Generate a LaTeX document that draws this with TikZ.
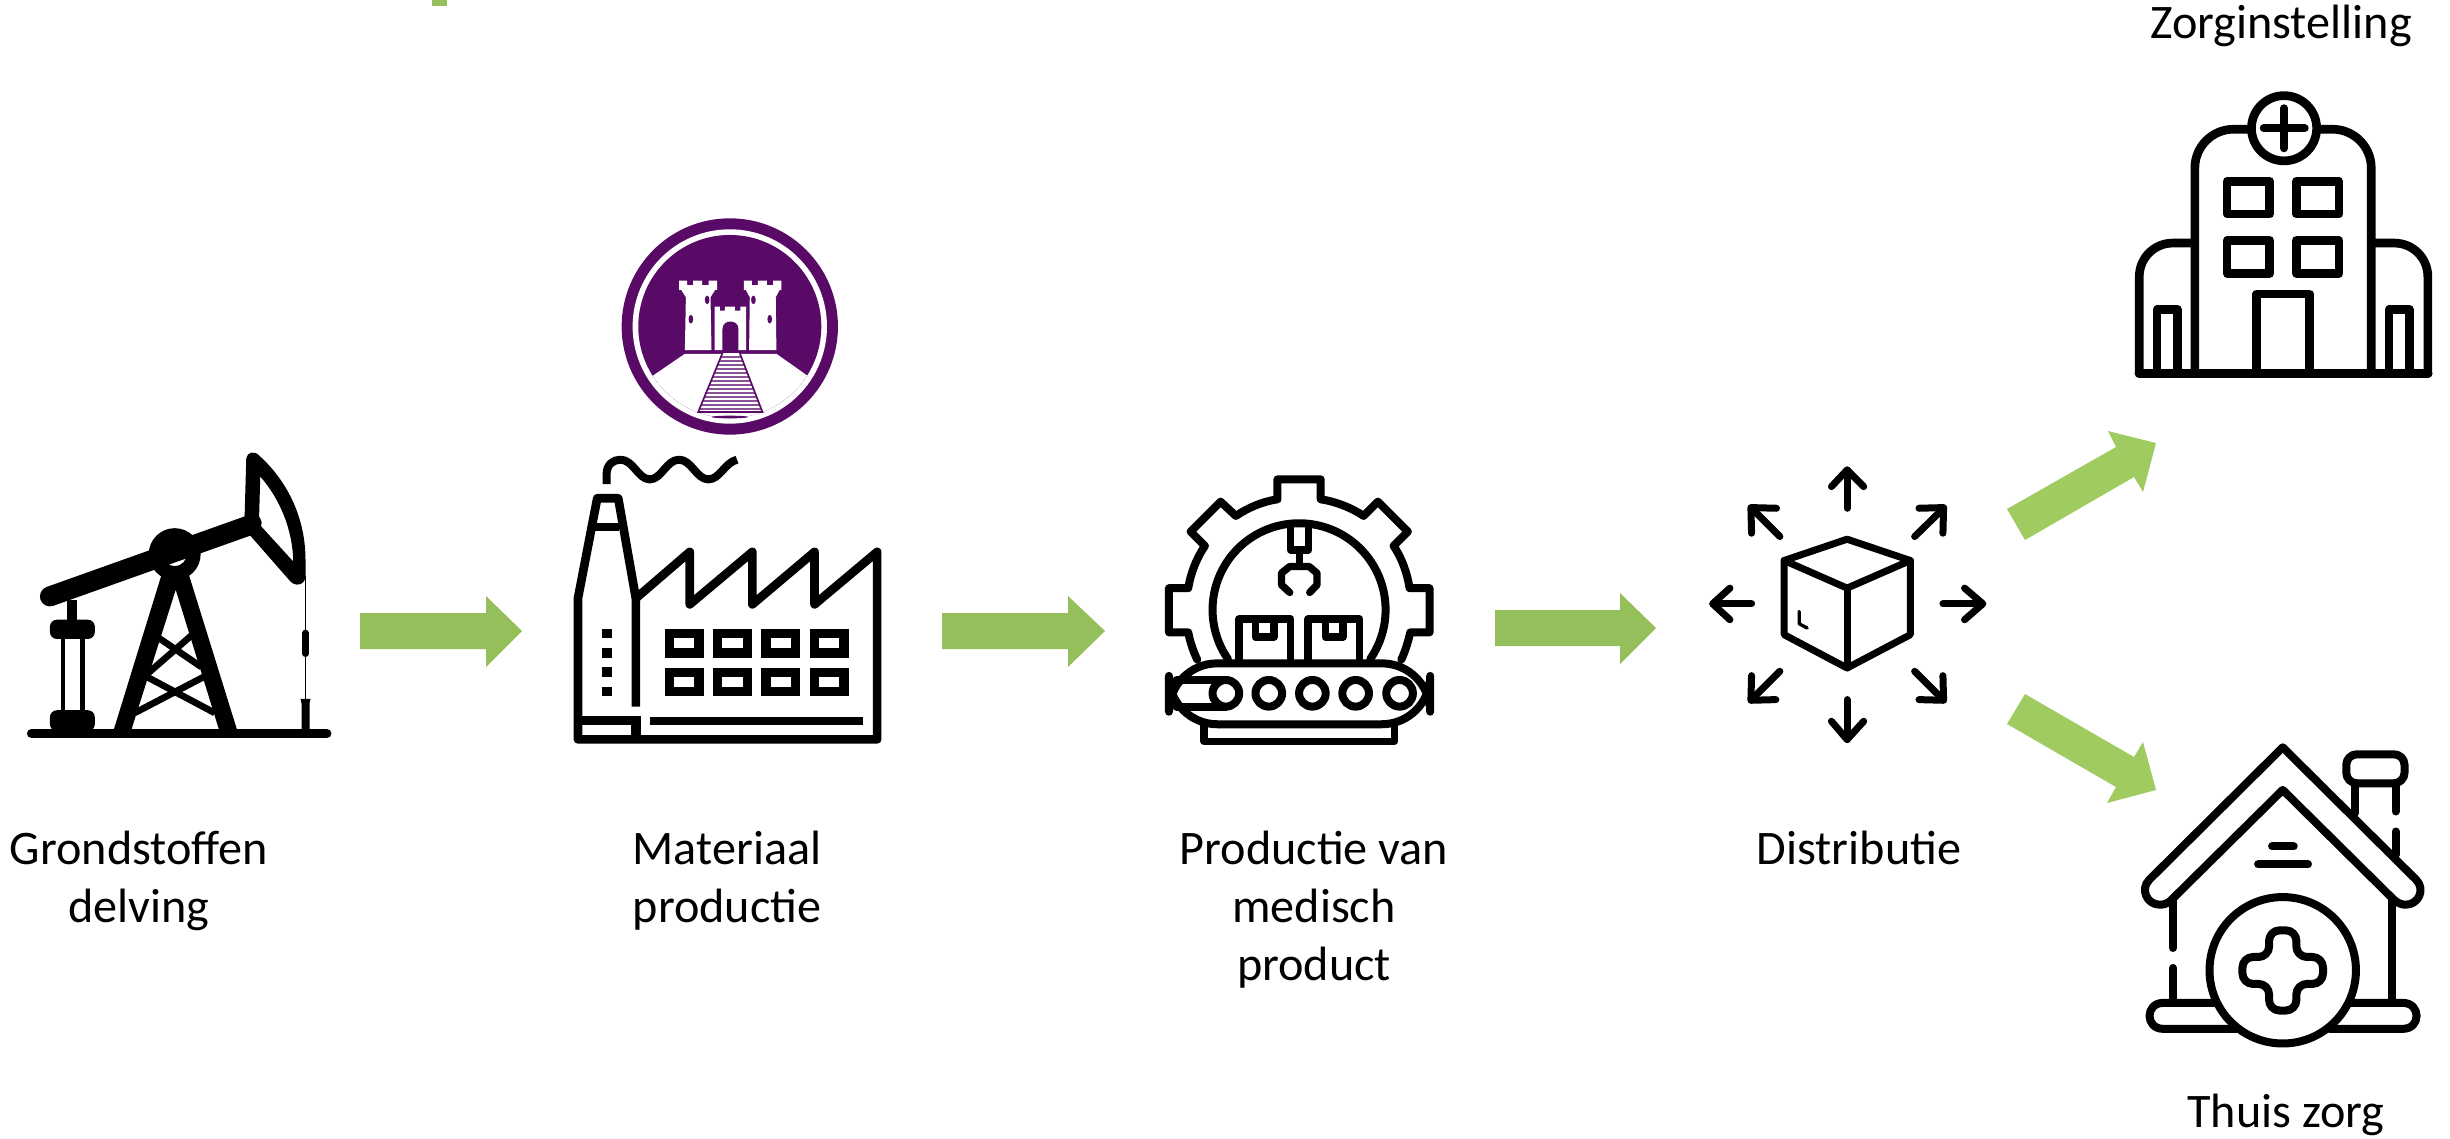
\documentclass[tikz,border=0pt]{standalone}
\usepackage{fontspec}
\setmainfont{Carlito}
\definecolor{grA}{HTML}{94BF5A}
\definecolor{grB}{HTML}{A0CB60}
\definecolor{purp}{HTML}{590A67}
\tikzset{
  ln/.style={line width=#1*0.0948pt},
  ink/.style={draw=black,line join=round,line cap=round,ln=#1},
  inkb/.style={draw=black,line join=miter,line cap=butt,ln=#1},
  zm/.style={x=0.0033333cm,y=-0.0033333cm},
  zmf/.style={x=0.0033333cm,y=-0.0035714cm},
  lab/.style={anchor=base,inner sep=0pt,font=\fontsize{13.7}{16}\selectfont,text=black},
}
\begin{document}
\begin{tikzpicture}[x=0.01cm,y=-0.01cm]
\useasboundingbox (0,0) rectangle (2450,1138);
\fill[white] (0,0) rectangle (2450,1138);
% top fragment
\fill[grA] (432,0) rectangle (447,6);
% block arrows
\fill[grA] (360,613) -- (486,613) -- (486,596) -- (522,631) -- (486,667) -- (486,649) -- (360,649) -- cycle;
\fill[grA] (942,613) -- (1068,613) -- (1068,596) -- (1105,631) -- (1068,667) -- (1068,649) -- (942,649) -- cycle;
\fill[grA] (1495,610) -- (1620,610) -- (1620,593) -- (1656,628) -- (1620,664) -- (1620,646) -- (1495,646) -- cycle;
\fill[grB] (2007,509) -- (2116,447) -- (2108,431) -- (2156,443) -- (2143,492) -- (2134,477) -- (2025,540) -- cycle;
\fill[grB] (2025,694) -- (2134,757) -- (2143,742) -- (2156,790) -- (2107,803) -- (2116,787) -- (2007,724) -- cycle;

% ---------- pump
\begin{scope}[shift={(0,420)},zm]
\draw[ink=28] (95,942) -- (982,942);
\draw[inkb=60,line cap=round] (150,530) -- (745,318);
\fill (735,285) -- (770,285) .. controls (790,295) and (792,320) .. (775,330) -- (750,345) -- cycle;
\fill[even odd rule] (740,115) .. controls (742,97) and (765,90) .. (780,108) .. controls (860,180) and (918,290) .. (918,420) -- (918,470) .. controls (916,498) and (885,502) .. (870,482) -- (750,345) -- (735,290) -- cycle
  (782,170) .. controls (840,235) and (880,330) .. (881,425) -- (778,312) -- cycle;
\draw[inkb=5] (918,470) -- (918,930);
\draw[ink=20] (918,640) -- (918,702);
\fill (903,838) -- (933,838) -- (930,852) -- (930,930) -- (906,930) -- (906,852) -- cycle;
\draw[inkb=30] (217,540) -- (217,605);
\fill[rounded corners=4pt*0.5] (150,600) rectangle (285,658);
\draw[inkb=14] (189,655) -- (189,875);
\draw[inkb=14] (247,655) -- (247,875);
\fill[rounded corners=2pt] (150,872) rectangle (285,935);
\fill (490,450) -- (342,930) -- (395,930) -- (528,510) -- (658,930) -- (712,930) -- (563,450) -- cycle;
\draw[inkb=20] (470,650) -- (605,742);
\draw[inkb=20] (578,645) -- (440,765);
\draw[inkb=20] (438,770) -- (645,880);
\draw[inkb=20] (612,772) -- (405,880);
\fill[even odd rule] (525,403) circle[radius=78] (525,403) circle[radius=36];
\end{scope}

% ---------- logo
\begin{scope}[shift={(610,210)},zm]
\fill[purp] (360,350) circle[radius=325];
\fill[white] (360,350) circle[radius=292];
\fill[purp] (360,350) circle[radius=275];
\begin{scope}
\clip (360,350) circle[radius=275];
\fill[white] (225,432) -- (500,432) -- (592,497) -- (700,497) -- (700,700) -- (20,700) -- (20,497) -- (130,497) -- cycle;
\end{scope}
% towers
\fill[white] (208,212) -- (232,212) -- (232,226) -- (250,226) -- (250,212) -- (277,212) -- (277,226) -- (296,226) -- (296,212) -- (322,212) -- (322,240) -- (316,240) -- (302,262) -- (305,421) -- (225,421) -- (228,262) -- (214,240) -- (208,240) -- cycle;
\fill[white] (402,212) -- (426,212) -- (426,226) -- (444,226) -- (444,212) -- (471,212) -- (471,226) -- (490,226) -- (490,212) -- (515,212) -- (515,240) -- (510,240) -- (498,262) -- (500,421) -- (418,421) -- (420,262) -- (408,240) -- (402,240) -- cycle;
\fill[white] (314,290) -- (330,290) -- (330,302) -- (345,302) -- (345,290) -- (375,290) -- (375,302) -- (392,302) -- (392,290) -- (409,290) -- (409,421) -- (314,421) -- cycle;
\fill[purp] (338,425) -- (338,358) .. controls (338,342) and (350,335) .. (362,335) .. controls (374,335) and (386,342) .. (386,358) -- (386,425) -- cycle;
\foreach \wx/\wy in {292/270,243/328,431/270,480/328}
  \fill[purp] (\wx,\wy) ellipse[x radius=7,y radius=13];
% stairs
\fill[white] (338,430) -- (390,430) -- (458,607) -- (265,607) -- cycle;
\begin{scope}
\clip (338,430) -- (390,430) -- (458,607) -- (265,607) -- cycle;
\foreach \sy in {442,454,466,478,490,502,514,526,538,550,562,574,586,598}
  \draw[purp!70!white,ln=4] (260,\sy) -- (460,\sy);
\end{scope}
\draw[purp,ln=5,line join=miter] (338,430) -- (265,607) -- (458,607) -- (390,430);
\fill[purp] (360,622) ellipse[x radius=55,y radius=4];
\end{scope}

% ---------- factory
\begin{scope}[shift={(550,200)},zmf]
\draw[ink=26,line cap=butt] (84,1510) -- (84,1115) -- (142,835) -- (205,835) -- (258,1115) -- (258,1418);
\draw[ink=26] (84,1510) -- (983,1510) -- (983,985) -- (795,1132) -- (795,985) -- (608,1132) -- (608,985) -- (420,1132) -- (420,985) -- (258,1115);
\draw[inkb=24] (135,915) -- (207,915);
\draw[inkb=26] (84,1457) -- (272,1457);
\draw[inkb=28] (258,1445) -- (258,1510);
\draw[inkb=26] (300,1458) -- (940,1458);
\foreach \dy in {1200,1255,1308,1362}
  \fill (155,\dy) rectangle (186,\dy+27);
\foreach \wx in {345,490,635,780}
  \foreach \wy in {1200,1308}
    \draw[inkb=28] (\wx+14,\wy+14) rectangle (\wx+103,\wy+68);
\draw[inkb=24,line join=round] (170,795) -- (170,768) .. controls (170,740) and (190,727) .. (212,727) .. controls (250,727) and (265,782) .. (300,782) .. controls (335,782) and (350,727) .. (388,727) .. controls (425,727) and (440,782) .. (476,782) .. controls (510,782) and (525,735) .. (562,727);
\end{scope}

% ---------- gear / conveyor
\begin{scope}[shift={(1140,460)},zm]
\draw[ink=24] (172,600) .. controls (160,575) and (150,545) .. (145,518) -- (87,518) -- (87,385) -- (145,385)
  .. controls (152,340) and (170,295) .. (195,258) -- (152,215) -- (242,125) -- (288,168)
  .. controls (325,143) and (368,125) .. (413,118) -- (413,58) -- (543,58) -- (543,118)
  .. controls (588,125) and (635,143) .. (672,168) -- (715,125) -- (805,215) -- (762,258)
  .. controls (787,295) and (803,340) .. (810,385) -- (870,385) -- (870,518) -- (812,518)
  .. controls (806,545) and (797,575) .. (785,600);
\draw[ink=24,domain=145.3:394.7,samples=60,smooth] plot ({478+260*cos(\x)},{450+260*sin(\x)});
% claw
\draw[ink=22] (452,200) -- (452,270) -- (506,270) -- (506,200);
\draw[inkb=22] (480,270) -- (480,320);
\draw[ink=22] (450,398) -- (425,375) -- (425,340) -- (450,320) -- (508,320) -- (532,340) -- (532,375) -- (510,398);
% boxes
\draw[ink=22] (297,600) -- (297,478) -- (453,478) -- (453,600);
\draw[ink=22] (347,490) -- (347,532) -- (403,532) -- (403,490);
\draw[ink=22] (505,600) -- (505,478) -- (660,478) -- (660,600);
\draw[ink=22] (557,490) -- (557,532) -- (610,532) -- (610,490);
% belt
\draw[ink=24,fill=white,rounded corners=27.5pt*0.5] (87,611) rectangle (872,794);
\draw[ink=24] (110,661) -- (258,661);
\draw[ink=24] (110,741) -- (258,741);
\foreach \rx in {258,387,518,648,780}
  \draw[ink=24,fill=white] (\rx,701) circle[radius=40];
\draw[ink=22] (192,800) -- (192,845) -- (765,845) -- (765,800);
\end{scope}

% ---------- distribution
\begin{scope}[shift={(1690,450)},zm]
\tikzset{dd/.style={ink=21}}
\draw[dd] (472,175) -- (472,60); \draw[dd] (425,110) -- (472,60) -- (522,110);
\draw[dd] (472,750) -- (472,870); \draw[dd] (425,815) -- (472,870) -- (522,815);
\draw[dd] (185,462) -- (70,462); \draw[dd] (120,415) -- (68,462) -- (120,510);
\draw[dd] (760,462) -- (878,462); \draw[dd] (825,415) -- (880,462) -- (825,510);
\draw[dd] (270,260) -- (185,175); \draw[dd] (185,250) -- (183,173) -- (260,175);
\draw[dd] (675,260) -- (762,175); \draw[dd] (688,175) -- (762,173) -- (760,250);
\draw[dd] (270,665) -- (185,750); \draw[dd] (185,678) -- (183,752) -- (258,750);
\draw[dd] (675,665) -- (760,750); \draw[dd] (760,678) -- (762,752) -- (688,750);
\draw[dd] (472,268) -- (662,332) -- (662,555) -- (472,655) -- (283,555) -- (283,332) -- cycle;
\draw[dd] (283,332) -- (472,415) -- (662,332);
\draw[dd] (472,415) -- (472,655);
\draw[ink=10] (328,485) -- (328,522) -- (352,535);
\end{scope}

% ---------- hospital
\begin{scope}[shift={(2110,70)},zm]
\draw[ink=26,rounded corners=19pt*0.5] (88,912) -- (88,520) -- (255,520);
\draw[ink=26,rounded corners=19pt*0.5] (955,912) -- (955,520) -- (785,520);
\draw[ink=26,rounded corners=11pt] (255,905) -- (255,178) -- (785,178) -- (785,905);
\draw[ink=26,fill=white] (523,175) circle[radius=98];
\draw[ink=24] (462,175) -- (585,175);
\draw[ink=24] (523,115) -- (523,235);
\draw[ink=28] (88,912) -- (955,912);
\foreach \wx in {352,560}
  \foreach \wy in {334,512}
    \draw[ink=26] (\wx,\wy) rectangle (\wx+128,\wy+99);
\draw[ink=26] (440,905) -- (440,673) -- (600,673) -- (600,905);
\draw[ink=26] (141,905) -- (141,720) -- (203,720) -- (203,905);
\draw[ink=26] (838,905) -- (838,720) -- (900,720) -- (900,905);
\end{scope}

% ---------- house
\begin{scope}[shift={(2110,720)},zm]
\draw[ink=24] (735,190) -- (735,280);
\draw[ink=24] (858,190) -- (858,275);
\draw[ink=24] (858,335) -- (858,405);
\draw[ink=24,rounded corners=6pt*0.5] (710,103) rectangle (885,190);
\draw[ink=24] (519,82) -- (118,480) .. controls (90,508) and (110,555) .. (150,555) .. controls (165,555) and (175,550) .. (185,540) -- (519,210) -- (853,540) .. controls (865,550) and (875,555) .. (888,555) .. controls (928,555) and (948,508) .. (920,480) -- cycle;
\draw[ink=24] (190,540) -- (190,685);
\draw[ink=24] (190,745) -- (190,845);
\draw[ink=24] (847,540) -- (847,845);
\draw[ink=24] (315,850) -- (160,850) .. controls (105,850) and (105,928) .. (160,928) -- (380,928);
\draw[ink=24] (725,850) -- (880,850) .. controls (935,850) and (935,928) .. (880,928) -- (660,928);
\draw[ink=24] (519,752) circle[radius=220];
\draw[ink=24,rounded corners=6pt*0.5] (478,632) -- (560,632) -- (560,712) -- (640,712) -- (640,793) -- (560,793) -- (560,873) -- (478,873) -- (478,793) -- (398,793) -- (398,712) -- (478,712) -- cycle;
\draw[ink=24] (487,380) -- (552,380);
\draw[ink=24] (445,434) -- (595,434);
\end{scope}

% ---------- labels
\node[lab] (l1a) at (139,864) {Grondstoffen};
\node[lab] (l1b) at (139,922) {delving};
\node[lab] (l2a) at (727,864) {Materiaal};
\node[lab] (l2b) at (727,922) {productie};
\node[lab] (l3a) at (1314,864) {Productie van};
\node[lab] (l3b) at (1314,922) {medisch};
\node[lab] (l3c) at (1314,980) {product};
\node[lab] (l4) at (1859,864) {Distributie};
\node[lab] (l5) at (2281,38) {Zorginstelling};
\node[lab] (l6) at (2286,1127) {Thuis zorg};
\end{tikzpicture}
\end{document}
